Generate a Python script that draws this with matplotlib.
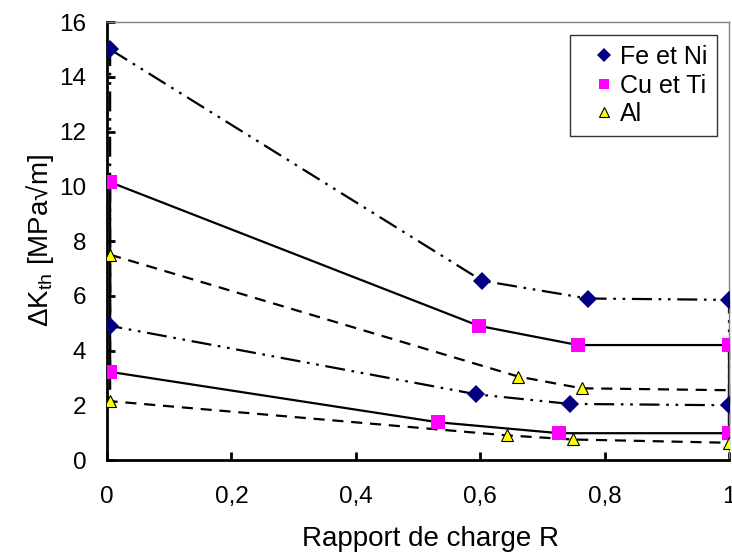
import matplotlib.pyplot as plt
import numpy as np

plt.rcParams['font.family'] = ['Liberation Sans', 'DejaVu Sans']
plt.rcParams['mathtext.fontset'] = 'custom'
plt.rcParams['mathtext.rm'] = 'Liberation Sans'

# Fe et Ni: upper and lower bounds
fe_up_x = [0.005, 0.603, 0.773, 1.0]
fe_up_y = [15.0, 6.55, 5.9, 5.85]
fe_lo_x = [0.005, 0.594, 0.744, 1.0]
fe_lo_y = [4.9, 2.4, 2.05, 2.0]

# Cu et Ti
cu_up_x = [0.005, 0.598, 0.757, 1.0]
cu_up_y = [10.15, 4.9, 4.2, 4.2]
cu_lo_x = [0.005, 0.532, 0.727, 1.0]
cu_lo_y = [3.22, 1.38, 0.98, 0.98]

# Al (no marker at the upper right end)
al_up_x = [0.005, 0.661, 0.763, 1.0]
al_up_y = [7.5, 3.05, 2.62, 2.55]
al_lo_x = [0.005, 0.643, 0.749, 1.0]
al_lo_y = [2.15, 0.9, 0.75, 0.63]


def loop(ux, uy, lx, ly):
    # upper branch left->right, then lower branch right->left, closed
    xs = list(ux) + list(lx[::-1]) + [ux[0]]
    ys = list(uy) + list(ly[::-1]) + [uy[0]]
    return np.array(xs), np.array(ys)


fig = plt.figure(figsize=(7.32, 5.57), dpi=100)
ax = fig.add_axes([0.1462, 0.1741, 0.8497, 0.7864])

series = [
    ('Fe et Ni', fe_up_x, fe_up_y, fe_lo_x, fe_lo_y, (0, (9, 3, 1.2, 3, 1.2, 3)),
     'D', 9, '#000080', '#000080'),
    ('Cu et Ti', cu_up_x, cu_up_y, cu_lo_x, cu_lo_y, '-',
     's', 10, '#FF00FF', '#FF00FF'),
    ('Al', al_up_x, al_up_y, al_lo_x, al_lo_y, (0, (5, 3.5)),
     '^', 9, '#FFFF00', 'black'),
]

handles = []
for name, ux, uy, lx, ly, ls, mk, ms, fc, ec in series:
    xs, ys = loop(ux, uy, lx, ly)
    ax.plot(xs, ys, color='black', lw=1.6, ls=ls, zorder=2, clip_on=False)
    mx = list(ux) + list(lx)
    my = list(uy) + list(ly)
    if name == 'Al':
        mx = mx[:3] + mx[4:]
        my = my[:3] + my[4:]
    ax.plot(mx, my, ls='none', marker=mk, ms=ms, mfc=fc, mec=ec,
            mew=0.8 if ec == 'black' else 0, zorder=3)
    h, = ax.plot([], [], ls='none', marker=mk, ms=ms * 0.75, mfc=fc, mec=ec,
                 mew=0.8 if ec == 'black' else 0, label=name)
    handles.append(h)

ax.set_xlim(0, 1)
ax.set_ylim(0, 16)
ax.set_xticks(np.arange(0, 1.01, 0.2))
ax.set_xticklabels(['0', '0,2', '0,4', '0,6', '0,8', '1'])
ax.set_yticks(np.arange(0, 17, 2))

for s in ['left', 'bottom']:
    ax.spines[s].set_linewidth(2)
    ax.spines[s].set_color('black')
for s in ['top', 'right']:
    ax.spines[s].set_linewidth(1)
    ax.spines[s].set_color('#808080')

ax.tick_params(axis='both', direction='in', length=6, width=2, labelsize=17.5)
ax.tick_params(axis='x', pad=19)
ax.tick_params(axis='y', pad=15)

xl = ax.set_xlabel('Rapport de charge R', fontsize=20, labelpad=13)
xl.set_x(0.52)
ax.set_ylabel('ΔK$_{\\mathrm{th}}$ [MPa√m]', fontsize=20, labelpad=2)

leg = ax.legend(handles=handles, loc='upper right', bbox_to_anchor=(0.981, 0.97),
                fontsize=18, frameon=True, fancybox=False, edgecolor='black',
                handlelength=1.9, handletextpad=-0.3, borderpad=0.4,
                labelspacing=0.18, borderaxespad=0)
leg.get_frame().set_linewidth(1)

fig.savefig('out.png', dpi=100)
